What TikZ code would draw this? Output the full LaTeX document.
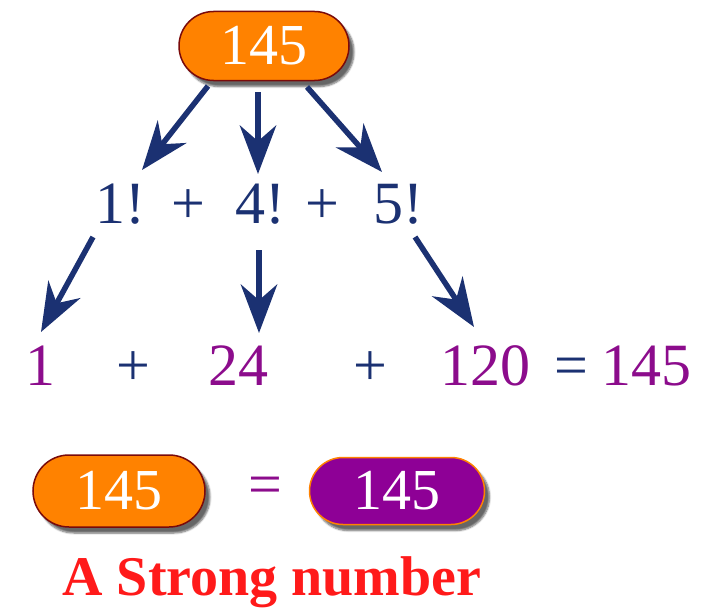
\documentclass[tikz,border=0pt]{standalone}
\usepackage{fontspec}
\setmainfont{Liberation Serif}
\usetikzlibrary{arrows.meta,shapes.misc,shadows.blur}
\definecolor{pillorange}{HTML}{FF8200}
\definecolor{pillborder}{HTML}{7A0A0A}
\definecolor{pillpurple}{HTML}{8E0096}
\definecolor{navy}{HTML}{1B3172}
\definecolor{numpurple}{HTML}{8C0C8C}
\definecolor{strongred}{HTML}{FF1A1A}
\tikzset{
  pill/.style={rounded rectangle, draw=pillborder, line width=1.5pt, fill=pillorange,
    minimum width=170pt, minimum height=69pt, inner sep=0pt, text=white,
    font=\fontsize{58}{60}\selectfont,
    blur shadow={shadow xshift=5pt, shadow yshift=-6pt, shadow blur steps=6, shadow opacity=60}},
  purplepill/.style={pill, fill=pillpurple, draw=pillorange},
  navytext/.style={text=navy, inner sep=0pt, anchor=base, font=\fontsize{60}{62}\selectfont},
  purpletext/.style={text=numpurple, inner sep=0pt, anchor=base, font=\fontsize{60}{62}\selectfont},
  bigarrow/.style={draw=navy, line width=5.5pt, -{Stealth[scale=1.75]}},
}
\begin{document}
\begin{tikzpicture}[x=1pt, y=-1pt]
\useasboundingbox (0,0) rectangle (720,610);
% top pill
\node[pill] (top) at (264,46) {145};
% row 2
\node[navytext] (f1) at (120,223) {1!};
\node[navytext] (p1) at (188,223) {+};
\node[navytext] (f4) at (260,223) {4!};
\node[navytext] (p2) at (322,223) {+};
\node[navytext] (f5) at (398,223) {5!};
% row 3
\node[purpletext] (v1) at (40,385) {1};
\node[navytext] (q1) at (133,385) {+};
\node[purpletext] (v24) at (238,385) {24};
\node[navytext] (q2) at (370,385) {+};
\node[purpletext] (v120) at (485,385) {120};
\node[navytext] (eq) at (571,385) {=};
\node[purpletext] (sum) at (646,385) {145};
% arrow coordinates
\coordinate (a1s) at (208,86);
\coordinate (a1e) at (142,170);
\coordinate (a2s) at (258,92);
\coordinate (a2e) at (258,174);
\coordinate (a3s) at (307,87);
\coordinate (a3e) at (382,172);
\coordinate (b1s) at (93,237);
\coordinate (b1e) at (41,332);
\coordinate (b2s) at (259,250);
\coordinate (b2e) at (259,333);
\coordinate (b3s) at (415,237);
\coordinate (b3e) at (474,327);
\draw[bigarrow] (a1s) -- (a1e);
\draw[bigarrow] (a2s) -- (a2e);
\draw[bigarrow] (a3s) -- (a3e);
\draw[bigarrow] (b1s) -- (b1e);
\draw[bigarrow] (b2s) -- (b2e);
\draw[bigarrow] (b3s) -- (b3e);
% bottom
\node[pill, minimum width=172pt, minimum height=72pt] (lhs) at (119,491) {145};
\node[text=numpurple, inner sep=0pt, font=\fontsize{60}{62}\selectfont] (beq) at (265,491) {=};
\node[purplepill, minimum width=175pt, minimum height=67pt] (rhs) at (397,491) {145};
\node[text=strongred, inner sep=0pt, anchor=base, font=\fontsize{56}{58}\selectfont\bfseries] (label) at (272,595) {A Strong number};
\end{tikzpicture}
\end{document}
